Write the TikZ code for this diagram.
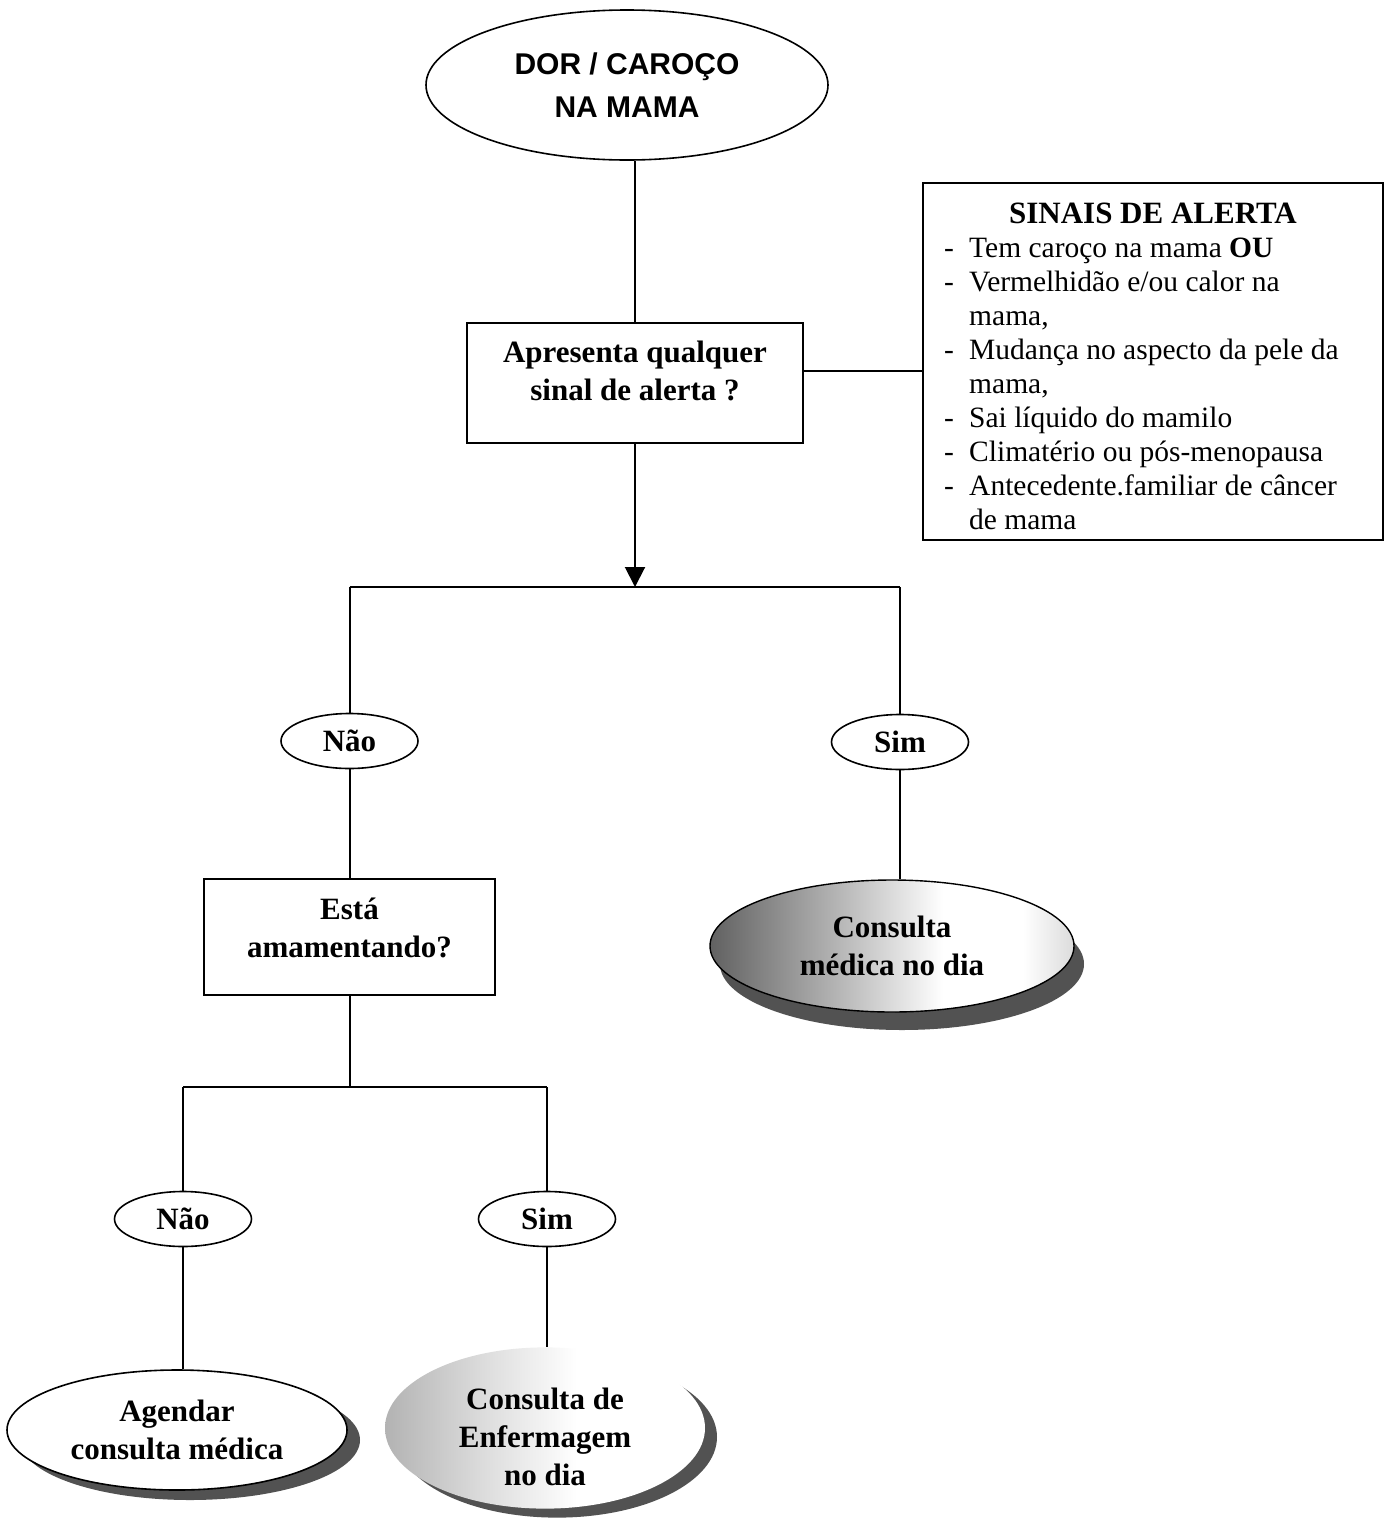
\documentclass[tikz,border=0pt]{standalone}
\usepackage{fontspec}
\setmainfont{Liberation Serif}
\newfontfamily\headsans{Liberation Sans}
\usetikzlibrary{shapes.geometric,arrows.meta,calc}

% colours for the shaded outcome ellipses and their shadows
\colorlet{shadeDark}{black!62}
\colorlet{shadeMid}{black!30}
\colorlet{shadeLight}{black!14}
\colorlet{shadowgray}{black!68}

% horizontal grey-to-white fills (path box maps to 25bp..75bp)
\pgfdeclarehorizontalshading{medshade}{100bp}{color(0bp)=(shadeDark); color(25bp)=(shadeDark); color(42bp)=(shadeMid); color(57bp)=(white); color(68bp)=(white); color(75bp)=(shadeLight); color(100bp)=(shadeLight)}
\pgfdeclarehorizontalshading{enfshade}{100bp}{color(0bp)=(shadeMid); color(25bp)=(shadeMid); color(40bp)=(shadeLight); color(55bp)=(white); color(100bp)=(white)}

% lift a centred block of lines without changing its box
\newcommand\liftlines[2]{\raisebox{#1}[\height][\depth]{\begin{tabular}{@{}c@{}}#2\end{tabular}}}

\tikzset{
  conn/.style={line width=2pt},
  labelfont/.style={font=\bfseries\fontsize{31}{38}\selectfont},
  qbox/.style={draw, rectangle, line width=2pt, inner sep=0pt, labelfont},
  choice/.style={draw, ellipse, line width=1.6pt, inner sep=0pt,
    minimum width=137pt, minimum height=55pt, labelfont},
  outcome/.style={ellipse, inner sep=0pt, labelfont, align=center},
  castshadow/.style={preaction={fill=shadowgray, transform canvas={shift={#1}}}},
  itemtext/.style={anchor=base west, inner sep=0pt, font=\fontsize{29.5}{34}\selectfont},
}

\begin{document}
\begin{tikzpicture}[x=1pt, y=-1pt]
  \useasboundingbox (0,0) rectangle (1390,1521);
  \fill[white] (0,0) rectangle (1390,1521);

  % start
  \node[draw, ellipse, line width=1.6pt, inner sep=0pt, minimum width=402pt,
        minimum height=150pt, align=center,
        font=\headsans\bfseries\fontsize{30}{43}\selectfont]
        (start) at (627,85) {DOR / CAROÇO\\NA MAMA};

  % first question
  \node[qbox, minimum width=336pt, minimum height=120pt] (q1) at (635,383)
        {\liftlines{9pt}{Apresenta qualquer\\sinal de alerta ?}};

  % warning signs box
  \node[draw, rectangle, line width=2pt, inner sep=0pt, minimum width=460pt,
        minimum height=357pt] (alert) at (1153,361.5) {};
  \node[anchor=base, inner sep=0pt, font=\bfseries\fontsize{31}{38}\selectfont]
        (alerttitle) at (1153,223) {SINAIS DE ALERTA};
  \foreach \k/\dash/\txt in {
      0/-/{Tem caroço na mama \textbf{OU}},
      1/-/{Vermelhidão e/ou calor na},
      2//{mama,},
      3/-/{Mudança no aspecto da pele da},
      4//{mama,},
      5/-/{Sai líquido do mamilo},
      6/-/{Climatério ou pós-menopausa},
      7/-/{Antecedente.familiar de câncer},
      8//{de mama}}{
    \node[itemtext] (dash\k) at (944,257+34.1*\k) {\dash};
    \node[itemtext] (item\k) at (969,257+34.1*\k) {\txt};
  }

  % first split
  \node[choice] (nao1) at (349.5,741) {Não};
  \node[choice] (sim1) at (900,742) {Sim};

  \node[qbox, minimum width=291pt, minimum height=116pt] (q2) at (349.5,937)
        {\liftlines{6pt}{Está\\amamentando?}};

  \node[outcome, draw, line width=1.4pt, shade, shading=medshade,
        castshadow={(10pt,-18pt)}, minimum width=364pt, minimum height=132pt]
        (med) at (892,946) {Consulta\\médica no dia};

  % second split
  \node[choice] (nao2) at (183,1219) {Não};
  \node[choice] (sim2) at (547,1219) {Sim};

  \node[outcome, draw, line width=1.6pt, fill=white,
        castshadow={(13pt,-10pt)}, minimum width=340pt, minimum height=120pt]
        (agd) at (177,1430) {Agendar\\consulta médica};

  \node[outcome, shade, shading=enfshade, castshadow={(12pt,-9pt)},
        minimum width=320pt, minimum height=156pt]
        (enf) at (545,1428) {\liftlines{-12pt}{Consulta de\\Enfermagem\\no dia}};

  % junction points
  \coordinate (split1) at (635,587);
  \coordinate (bus1l) at (349.5,587);
  \coordinate (bus1r) at (900,587);
  \coordinate (split2) at (349.5,1087);
  \coordinate (bus2l) at (183,1087);
  \coordinate (bus2r) at (547,1087);
  \coordinate (q1link) at ($(q1.north east)!0.4!(q1.south east)$);

  % connectors
  \draw[conn] (q1.north |- start.south) -- (q1.north);
  \draw[conn] (q1link) -- (q1link -| alert.west);
  \draw[conn, -{Triangle[length=20pt, width=20pt]}] (q1.south) -- (split1);
  \draw[conn] (bus1l) -- (bus1r);
  \draw[conn] (bus1l) -- (nao1.north);
  \draw[conn] (bus1r) -- (sim1.north);
  \draw[conn] (nao1.south) -- (q2.north);
  \draw[conn] (sim1.south) -- (sim1.south |- med.north);
  \draw[conn] (q2.south) -- (split2);
  \draw[conn] (bus2l) -- (bus2r);
  \draw[conn] (bus2l) -- (nao2.north);
  \draw[conn] (bus2r) -- (sim2.north);
  \draw[conn] (nao2.south) -- (nao2.south |- agd.north);
  \draw[conn] (sim2.south) -- (sim2.south |- enf.north);
\end{tikzpicture}
\end{document}
